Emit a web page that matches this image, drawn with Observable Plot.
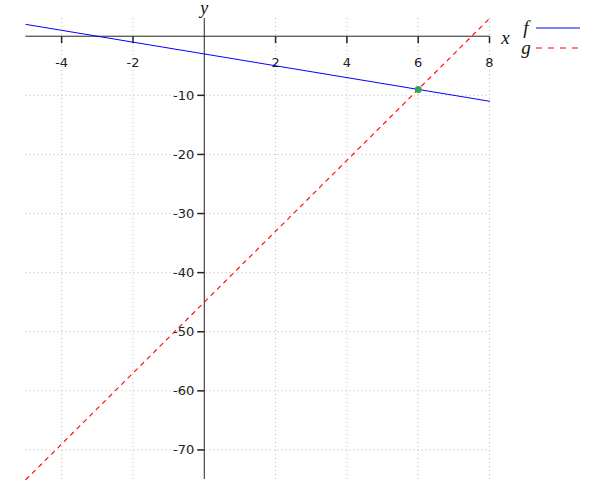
<!DOCTYPE html>
<html>
<head>
<meta charset="utf-8">
<script src="https://cdn.jsdelivr.net/npm/d3@7"></script>
<script src="https://cdn.jsdelivr.net/npm/@observablehq/plot@0.6"></script>
<style>
  body { margin: 0; background: #fff; }
  #wrap { position: relative; width: 600px; height: 500px; }
  #legend { position: absolute; left: 518px; top: 18px; font-family: "Liberation Serif", "Times New Roman", serif; font-style: italic; font-size: 19px; color: #111; }
  .item { display: flex; align-items: center; height: 20px; }
  .item span { width: 16px; display: inline-block; text-align: center; }
  .item svg { margin-left: 2px; }
</style>
</head>
<body>
<div id="wrap"><div id="legend"></div></div>
<script>
// Data
const xEnds = [-5, 8];
const fValues = [2, -11];      // f(x), solid blue
const gValues = [-75, 3];      // g(x), dashed red
const intersection = [{x: 6, y: -9}];
const xTicks = [-4, -2, 2, 4, 6, 8];
const yTicks = [-10, -20, -30, -40, -50, -60, -70];
const seriesNames = ["f", "g"];
const seriesColors = ["#0000ff", "#ff0000"];

const fData = xEnds.map((x, i) => ({x, y: fValues[i]}));
const gData = xEnds.map((x, i) => ({x, y: gValues[i]}));

const tickDown = {draw(ctx) { ctx.moveTo(0, 0); ctx.lineTo(0, 7); }};
const tickLeft = {draw(ctx) { ctx.moveTo(0, 0); ctx.lineTo(-7, 0); }};

const font = "'DejaVu Sans', 'Liberation Sans', sans-serif";
const serif = "'Liberation Serif', 'Times New Roman', serif";

const chart = Plot.plot({
  width: 600,
  height: 500,
  marginLeft: 25.5,
  marginRight: 111,
  marginTop: 18,
  marginBottom: 21,
  style: {fontFamily: font, fontSize: "13px", background: "white"},
  x: {domain: [-5, 8], axis: null},
  y: {domain: [-75, 3], axis: null},
  marks: [
    Plot.ruleX(xTicks, {x: d => d, stroke: "#bbb", strokeDasharray: "1,3"}),
    Plot.ruleY(yTicks, {y: d => d, stroke: "#bbb", strokeDasharray: "1,3"}),
    Plot.ruleY([0], {stroke: "#222"}),
    Plot.ruleX([0], {stroke: "#222"}),
    Plot.dot(xTicks, {x: d => d, y: 0, symbol: tickDown, fill: "none", stroke: "#222", r: 4}),
    Plot.dot(yTicks, {x: 0, y: d => d, symbol: tickLeft, fill: "none", stroke: "#222", r: 4}),
    Plot.text(xTicks, {x: d => d, y: 0, dy: 27, text: d => String(d), fill: "#222", fontFamily: font, fontSize: 13}),
    Plot.text(yTicks, {x: 0, y: d => d, dx: -10, textAnchor: "end", text: d => String(d), fill: "#222", fontFamily: font, fontSize: 13}),
    Plot.line(fData, {x: "x", y: "y", stroke: seriesColors[0], strokeWidth: 1}),
    Plot.line(gData, {x: "x", y: "y", stroke: seriesColors[1], strokeWidth: 1.1, strokeDasharray: "4,5"}),
    Plot.dot(intersection, {x: "x", y: "y", r: 3.5, fill: "#35a058", stroke: "none"}),
    Plot.text(["x"], {x: 8, y: 0, dx: 16, dy: 2, text: d => d, fontFamily: serif, fontStyle: "italic", fontSize: 19, fill: "#111"}),
    Plot.text(["y"], {x: 0, y: 3, dy: -10, text: d => d, fontFamily: serif, fontStyle: "italic", fontSize: 18, fill: "#111"})
  ]
});
document.getElementById("wrap").prepend(chart);

const legend = document.getElementById("legend");
seriesNames.forEach((name, i) => {
  const item = document.createElement("div");
  item.className = "item";
  const dash = i === 1 ? ' stroke-dasharray="6,6"' : '';
  item.innerHTML = `<span>${name}</span><svg width="44" height="4"><line x1="0" y1="2" x2="44" y2="2" stroke="${seriesColors[i]}" stroke-width="1"${dash}/></svg>`;
  legend.appendChild(item);
});
</script>
</body>
</html>
